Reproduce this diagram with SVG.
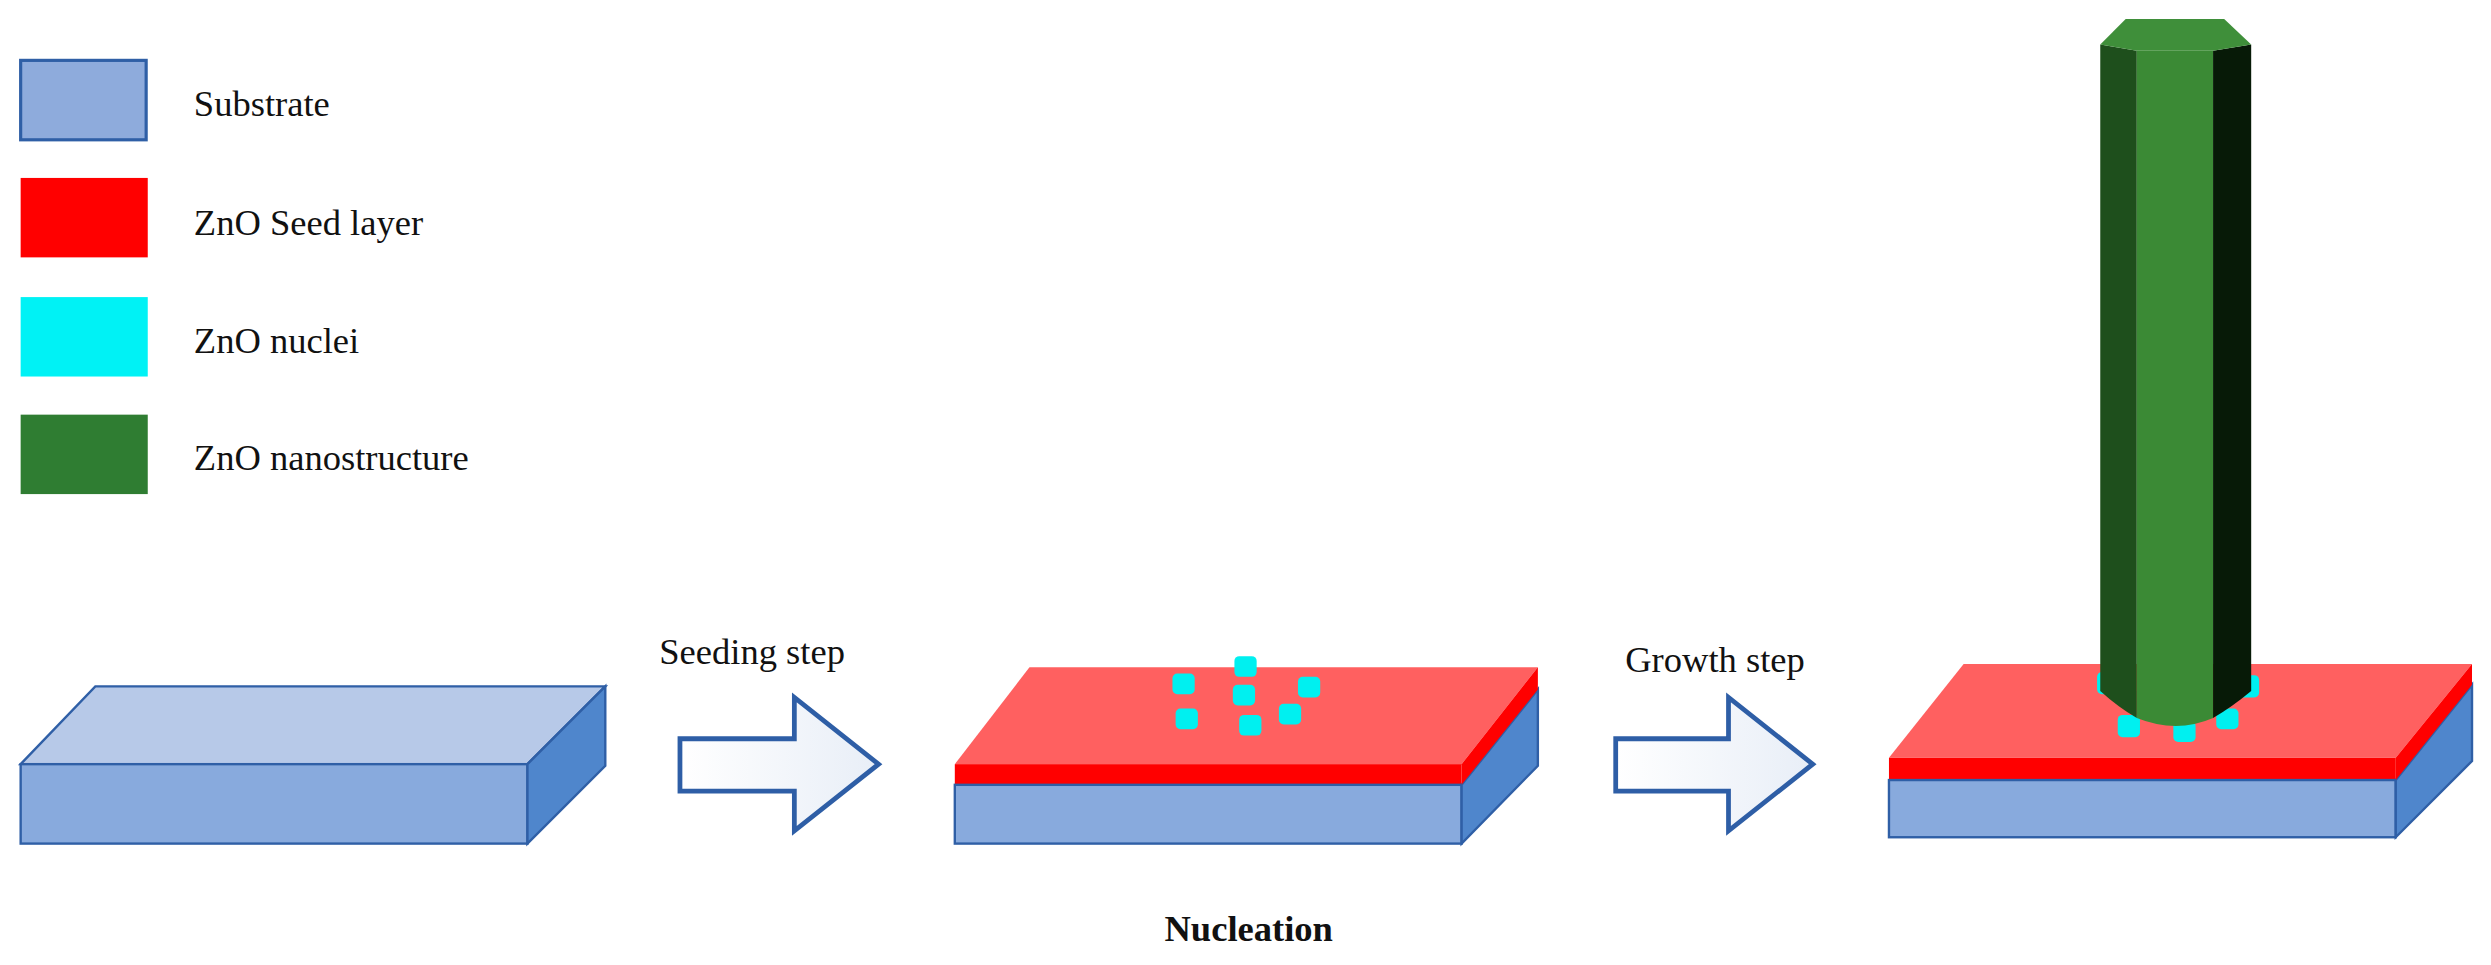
<svg xmlns="http://www.w3.org/2000/svg" width="2491" height="965" viewBox="0 0 2491 965">
<style>
text{font-family:"Liberation Serif",serif;font-size:23px;fill:#111}
.top{fill:#b7c9e8;stroke:#2f5fa6;stroke-width:1.5}
.front{fill:#88aadd;stroke:#2f5fa6;stroke-width:1.5}
.side{fill:#4f86cc;stroke:#2f5fa6;stroke-width:1.5}
.rtop{fill:#ff6060}
.red{fill:#ff0000}
.nuc{fill:#00f0f0}
.arr{fill:url(#g);stroke:#2e5ea6;stroke-width:3}
</style>
<defs>
<linearGradient id="g" x1="0" x2="1"><stop offset="0" stop-color="#fff"/><stop offset="1" stop-color="#e8eef7"/></linearGradient>
</defs>
<rect width="2491" height="965" fill="#fff"/>
<g transform="scale(1.5887)">
<g id="legend">
<rect x="13" y="38" width="79" height="50" fill="#8eabdc" stroke="#2f5fa6" stroke-width="2"/>
<rect x="13" y="112" width="80" height="50" fill="#ff0000"/>
<rect x="13" y="187" width="80" height="50" fill="#00f2f5"/>
<rect x="13" y="261" width="80" height="50" fill="#2f7d32"/>
<text x="122" y="73">Substrate</text>
<text x="122" y="148">ZnO Seed layer</text>
<text x="122" y="222">ZnO nuclei</text>
<text x="122" y="296">ZnO nanostructure</text>
</g>
<g id="slab1">
<polygon class="top" points="13,481 60,432 381,432 332,481"/>
<rect class="front" x="13" y="481" width="319" height="50"/>
<polygon class="side" points="332,481 381,432 381,482 332,531"/>
</g>
<g id="slab2">
<polygon class="rtop" points="601,481 648,420 968,420 920,481"/>
<rect class="red" x="601" y="481" width="319" height="13"/>
<rect class="front" x="601" y="494" width="319" height="37"/>
<polygon class="side" points="920,494 968,434 968,482 920,531"/>
<polygon class="red" points="920,481 968,420 968,434 920,494"/>
<g class="nuc">
<rect x="777" y="413" width="14" height="13" rx="3"/>
<rect x="738" y="424" width="14" height="13" rx="3"/>
<rect x="817" y="426" width="14" height="13" rx="3"/>
<rect x="776" y="431" width="14" height="13" rx="3"/>
<rect x="740" y="446" width="14" height="13" rx="3"/>
<rect x="805" y="443" width="14" height="13" rx="3"/>
<rect x="780" y="450" width="14" height="13" rx="3"/>
</g>
</g>
<g id="slab3">
<polygon class="rtop" points="1189,477 1236,418 1556,418 1508,477"/>
<rect class="red" x="1189" y="477" width="319" height="14"/>
<rect class="front" x="1189" y="491" width="319" height="36"/>
<polygon class="side" points="1508,491 1556,431 1556,479 1508,527"/>
<polygon class="red" points="1508,477 1556,418 1556,431 1508,491"/>
<g class="nuc">
<rect x="1320" y="423" width="13" height="14" rx="3"/>
<rect x="1409" y="425" width="13" height="14" rx="3"/>
<rect x="1333" y="450" width="14" height="14" rx="3"/>
<rect x="1368" y="454" width="14" height="13" rx="3"/>
<rect x="1395" y="446" width="14" height="13" rx="3"/>
</g>
</g>
<g id="pillar">
<path d="M1322,28 L1345,32 L1345,452 Q1333,445 1322,435 Z" fill="#1e4f1c"/>
<path d="M1345,32 L1393,32 L1393,452 Q1370,462 1345,452 Z" fill="#3b8a35"/>
<path d="M1393,32 L1417,28 L1417,435 Q1405,445 1393,452 Z" fill="#071a07"/>
<polygon points="1322,28 1338,12 1400,12 1417,28 1393,32 1345,32" fill="#3f8f3a"/>
</g>
<g id="connectors">
<polygon class="arr" points="428,465 500,465 500,439 553,481 500,523 500,498 428,498"/>
<polygon class="arr" points="1017,465 1088,465 1088,439 1141,481 1088,523 1088,498 1017,498"/>
</g>
<text x="415" y="418">Seeding step</text>
<text x="1023" y="423">Growth step</text>
<text x="786" y="592" text-anchor="middle" font-weight="bold">Nucleation</text>
</g>
</svg>
